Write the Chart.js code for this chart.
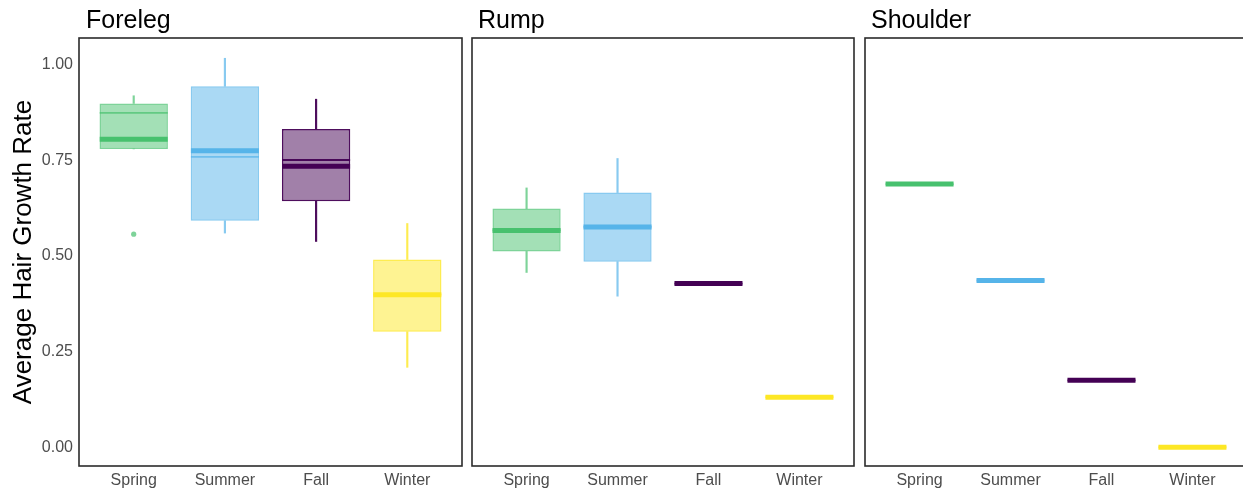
<!DOCTYPE html>
<html>
<head>
<meta charset="utf-8">
<title>Average Hair Growth Rate by season</title>
<script src="https://cdn.jsdelivr.net/npm/chart.js@4/dist/chart.umd.min.js"></script>
<style>
  html, body { margin: 0; padding: 0; background: #fff; }
  body {
    position: relative;
    width: 1243px;
    height: 493px;
    overflow: hidden;
    font-family: "Liberation Sans", Arial, sans-serif;
  }
  canvas { position: absolute; top: 0; }
  .strip {
    position: absolute;
    top: 7px;
    font-size: 25px;
    line-height: 25px;
    color: #000;
  }
</style>
</head>
<body>
<canvas id="c-foreleg" width="465" height="493" style="left:0"></canvas>
<canvas id="c-rump" width="387" height="493" style="left:470px"></canvas>
<canvas id="c-shoulder" width="387" height="493" style="left:863px"></canvas>
<div class="strip" style="left:86px">Foreleg</div>
<div class="strip" style="left:478px">Rump</div>
<div class="strip" style="left:871px">Shoulder</div>

<script>
/* global Chart */
(function () {
  "use strict";

  const seasons = ["Spring", "Summer", "Fall", "Winter"];
  const yTicks = [0, 0.25, 0.5, 0.75, 1];

  // Foreleg
  const forelegLow = [0.780, 0.560, 0.538, 0.209];
  const forelegQ1 = [0.780, 0.592, 0.643, 0.302];
  const forelegMedian = [0.874, 0.759, 0.751, 0.399];
  const forelegMean = [0.805, 0.775, 0.735, 0.399];
  const forelegQ3 = [0.899, 0.944, 0.832, 0.491];
  const forelegHigh = [0.919, 1.017, 0.910, 0.585];
  const forelegOutliers = [{ season: 0, value: 0.557 }];

  // Rump
  const rumpLow = [0.457, 0.395, 0.428, 0.131];
  const rumpQ1 = [0.512, 0.485, 0.428, 0.131];
  const rumpMedian = [0.567, 0.576, 0.428, 0.131];
  const rumpMean = [0.567, 0.576, 0.428, 0.131];
  const rumpQ3 = [0.624, 0.666, 0.428, 0.131];
  const rumpHigh = [0.678, 0.755, 0.428, 0.131];
  const rumpOutliers = [];

  // Shoulder (one reading per season)
  const shoulderValues = [0.688, 0.436, 0.175, 0.0];
  const shoulderOutliers = [];

  const lineColors = ["#47C16E", "#56B4E9", "#440154", "#FDE725"];
  const fillColors = [
    "rgba(71, 193, 110, 0.5)",
    "rgba(86, 180, 233, 0.5)",
    "rgba(68, 1, 84, 0.5)",
    "rgba(253, 231, 37, 0.5)",
  ];
  const edgeColors = [
    "rgba(71, 193, 110, 0.7)",
    "rgba(86, 180, 233, 0.7)",
    "rgba(68, 1, 84, 0.95)",
    "rgba(253, 231, 37, 0.8)",
  ];

  const framePlugin = {
    id: "frame",
    afterDraw(chart) {
      const { ctx, chartArea: a } = chart;
      ctx.save();
      ctx.strokeStyle = "#2b2b2b";
      ctx.lineWidth = 1.6;
      ctx.strokeRect(a.left, a.top, a.right - a.left, a.bottom - a.top);
      ctx.restore();
    },
  };

  function pairs(a, b) {
    return a.map(function (v, i) {
      return { x: i + 1, y: [v, b[i]] };
    });
  }

  function points(vals) {
    return vals.map(function (v, i) {
      return { x: i + 1, y: v };
    });
  }

  function makePanel(id, s, showY) {
    const datasets = [
      {
        type: "bar",
        data: pairs(s.q3, s.high),
        backgroundColor: edgeColors,
        barThickness: 1.5,
        grouped: false,
        order: 6,
      },
      {
        type: "bar",
        data: pairs(s.low, s.q1),
        backgroundColor: edgeColors,
        barThickness: 1.5,
        grouped: false,
        order: 5,
      },
      {
        type: "bar",
        data: pairs(s.q1, s.q3),
        backgroundColor: fillColors,
        borderColor: edgeColors,
        borderWidth: 1.5,
        borderSkipped: false,
        barPercentage: 0.75,
        categoryPercentage: 1,
        grouped: false,
        order: 4,
      },
      {
        type: "scatter",
        data: points(s.median),
        pointStyle: "line",
        pointRadius: 34,
        pointBorderWidth: 1.8,
        pointBorderColor: edgeColors,
        order: 2,
      },
      {
        type: "scatter",
        data: points(s.mean),
        pointStyle: "line",
        pointRadius: 34,
        pointBorderWidth: 5,
        pointBorderColor: lineColors,
        order: 1,
      },
      {
        type: "scatter",
        data: s.outliers.map(function (o) {
          return { x: o.season + 1, y: o.value };
        }),
        pointRadius: 2.6,
        pointBorderWidth: 0,
        pointBackgroundColor: s.outliers.map(function (o) {
          return edgeColors[o.season];
        }),
        order: 0,
      },
    ];

    return new Chart(document.getElementById(id), {
      type: "bar",
      data: { datasets: datasets },
      plugins: [framePlugin],
      options: {
        responsive: false,
        animation: false,
        events: [],
        layout: {
          autoPadding: false,
          padding: { left: showY ? 0 : 2, right: 3, top: 38, bottom: 0 },
        },
        plugins: {
          legend: { display: false },
          tooltip: { enabled: false },
        },
        scales: {
          x: {
            type: "linear",
            min: 0.4,
            max: 4.6,
            offset: false,
            grid: { display: false, drawTicks: false },
            border: { display: false },
            afterBuildTicks: function (axis) {
              axis.ticks = seasons.map(function (_, i) {
                return { value: i + 1 };
              });
            },
            afterFit: function (axis) {
              axis.height = 27;
            },
            ticks: {
              autoSkip: false,
              maxRotation: 0,
              padding: 5,
              color: "#4d4d4d",
              font: { family: '"Liberation Sans", Arial, sans-serif', size: 16 },
              callback: function (v) {
                return seasons[v - 1];
              },
            },
          },
          y: {
            display: showY,
            min: -0.049,
            max: 1.07,
            grid: { display: false, drawTicks: false },
            border: { display: false },
            afterBuildTicks: function (axis) {
              axis.ticks = yTicks.map(function (v) {
                return { value: v };
              });
            },
            afterFit: function (axis) {
              axis.width = showY ? 79 : 0;
            },
            ticks: {
              padding: 6,
              color: "#4d4d4d",
              font: { family: '"Liberation Sans", Arial, sans-serif', size: 16 },
              callback: function (v) {
                return Number(v).toFixed(2);
              },
            },
            title: {
              display: showY,
              text: "Average Hair Growth Rate",
              color: "#000",
              padding: { top: 8, bottom: 0 },
              font: { family: '"Liberation Sans", Arial, sans-serif', size: 26 },
            },
          },
        },
      },
    });
  }

  makePanel("c-foreleg", {
    low: forelegLow, q1: forelegQ1, median: forelegMedian, mean: forelegMean,
    q3: forelegQ3, high: forelegHigh, outliers: forelegOutliers,
  }, true);

  makePanel("c-rump", {
    low: rumpLow, q1: rumpQ1, median: rumpMedian, mean: rumpMean,
    q3: rumpQ3, high: rumpHigh, outliers: rumpOutliers,
  }, false);

  makePanel("c-shoulder", {
    low: shoulderValues, q1: shoulderValues, median: shoulderValues, mean: shoulderValues,
    q3: shoulderValues, high: shoulderValues, outliers: shoulderOutliers,
  }, false);
})();
</script>
</body>
</html>
